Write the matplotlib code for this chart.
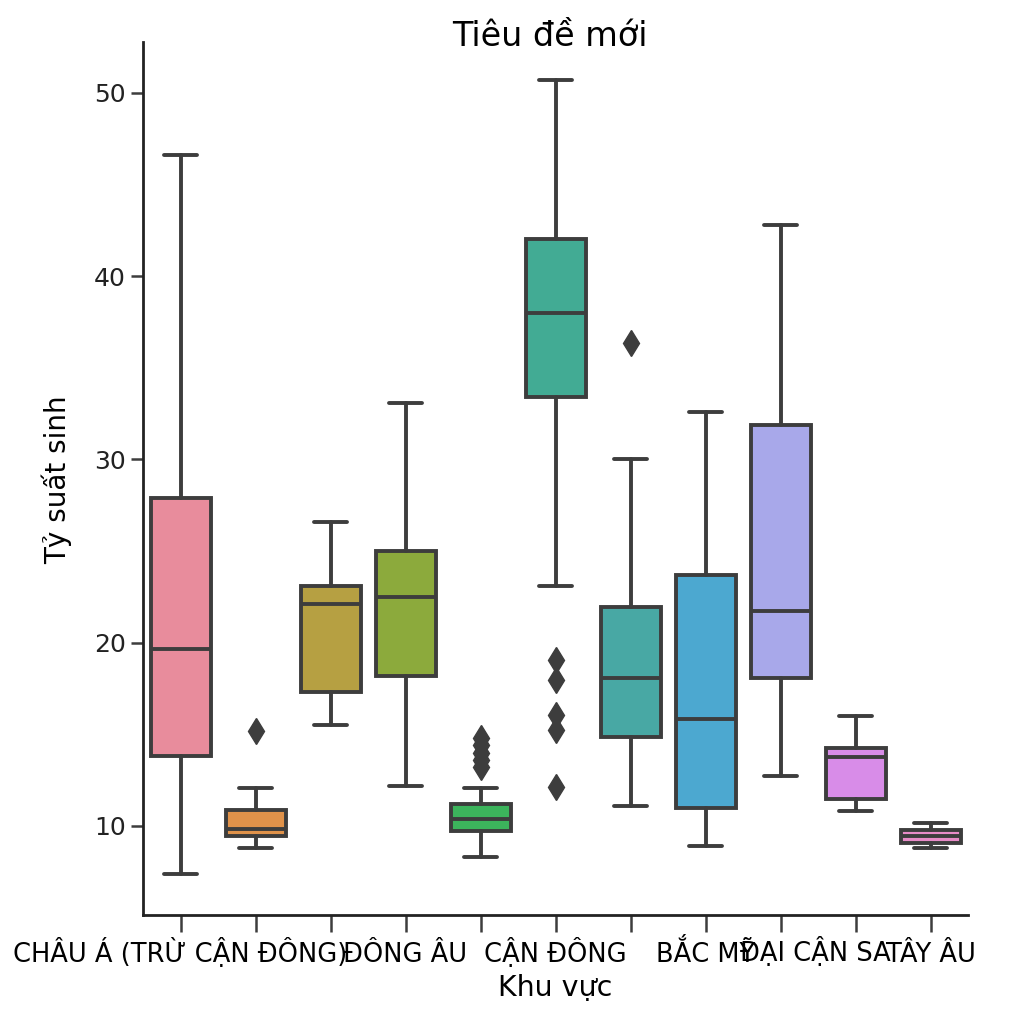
import matplotlib
matplotlib.use('Agg')
import matplotlib.pyplot as plt
import seaborn as sns

# 11 khu vực (tỷ suất sinh)
tick_labels = ['CHÂU Á (TRỪ CẬN ĐÔNG)', '', '', 'ĐÔNG ÂU', '', 'CẬN ĐÔNG',
               '', 'BẮC MỸ', '', 'ĐẠI CẬN SA', 'TÂY ÂU']
whislo = [7.4, 8.8, 15.5, 12.2, 8.3, 23.1, 11.1, 8.9, 12.7, 10.8, 8.8]
q1 = [13.8, 9.45, 17.3, 18.2, 9.7, 33.4, 14.86, 10.98, 18.07, 11.47, 9.07]
med = [19.66, 9.84, 22.1, 22.5, 10.4, 38.0, 18.07, 15.84, 21.7, 13.76, 9.45]
q3 = [27.9, 10.87, 23.1, 25.0, 11.2, 42.0, 21.95, 23.7, 31.9, 14.26, 9.78]
whishi = [46.6, 12.07, 26.6, 33.1, 12.07, 50.7, 30.0, 32.6, 42.8, 16.0, 10.16]
fliers = [[], [15.2], [], [], [14.8, 14.4, 14.0, 13.6, 13.2],
          [19.05, 17.96, 16.06, 15.24, 12.1], [36.35], [], [], [], []]
colors = ['#e88c9c', '#e0924a', '#b6a042', '#8caa3c', '#3cb45c', '#42ab94',
          '#48a8a4', '#4ca8d0', '#a8a8ea', '#d88ce8', '#e88cc8']

def main():
    sns.set_style('ticks')
    plt.rcParams['font.family'] = ['DejaVu Sans']
    plt.rcParams['text.color'] = 'black'
    plt.rcParams['xtick.labelcolor'] = 'black'
    plt.rcParams['ytick.labelcolor'] = '#222222'
    line = '#3d3d3d'

    stats = []
    for i in range(len(med)):
        stats.append({'whislo': whislo[i], 'q1': q1[i], 'med': med[i], 'q3': q3[i],
                      'whishi': whishi[i], 'fliers': fliers[i]})

    fig = plt.figure(figsize=(10.24, 10.24), dpi=100)
    ax = fig.add_axes([143/1024, 1-915/1024, (968-143)/1024, (915-42)/1024])
    lw = 2.8
    bp = ax.bxp(stats, positions=range(len(med)), widths=0.8, patch_artist=True,
                capwidths=0.44,
                boxprops=dict(edgecolor=line, linewidth=lw),
                medianprops=dict(color=line, linewidth=lw),
                whiskerprops=dict(color=line, linewidth=lw),
                capprops=dict(color=line, linewidth=lw),
                flierprops=dict(marker='d', markerfacecolor=line, markeredgecolor=line,
                                markersize=13, linestyle='none'))
    for patch, c in zip(bp['boxes'], colors):
        patch.set_facecolor(c)

    ax.set_xlim(-0.5, len(med) - 0.5)
    ax.set_ylim(5.14, 52.77)
    ax.set_yticks([10, 20, 30, 40, 50])
    ax.tick_params(axis='y', labelsize=18, length=9, width=1.8, color=line)
    ax.tick_params(axis='x', labelsize=18.5, length=12, width=1.8, color=line, pad=22)
    ax.set_xticks(range(len(med)))
    ax.set_xticklabels([t if i != 9 else '' for i, t in enumerate(tick_labels)])
    for lbl in ax.get_xticklabels():
        lbl.set_verticalalignment('baseline')
    # nhãn bị lệch trong ảnh gốc
    ax.annotate(tick_labels[9], xy=(9, 0), xycoords=ax.get_xaxis_transform(),
                xytext=(-40, -46), textcoords='offset pixels', ha='center',
                va='baseline', fontsize=18.5)
    for s in ['left', 'bottom']:
        ax.spines[s].set_linewidth(2)
        ax.spines[s].set_color('#222222')
    sns.despine(ax=ax)

    fig.text(550/1024, 1-37/1024, 'Tiêu đề mới', fontsize=24, ha='center', va='center')
    fig.text(57/1024, 1-480/1024, 'Tỷ suất sinh', fontsize=20, rotation=90,
             ha='center', va='center')
    fig.text(555/1024, 1-988/1024, 'Khu vực', fontsize=20.5, ha='center', va='center')
    fig.savefig('out.png', dpi=100, facecolor='white')

if __name__ == '__main__':
    main()
